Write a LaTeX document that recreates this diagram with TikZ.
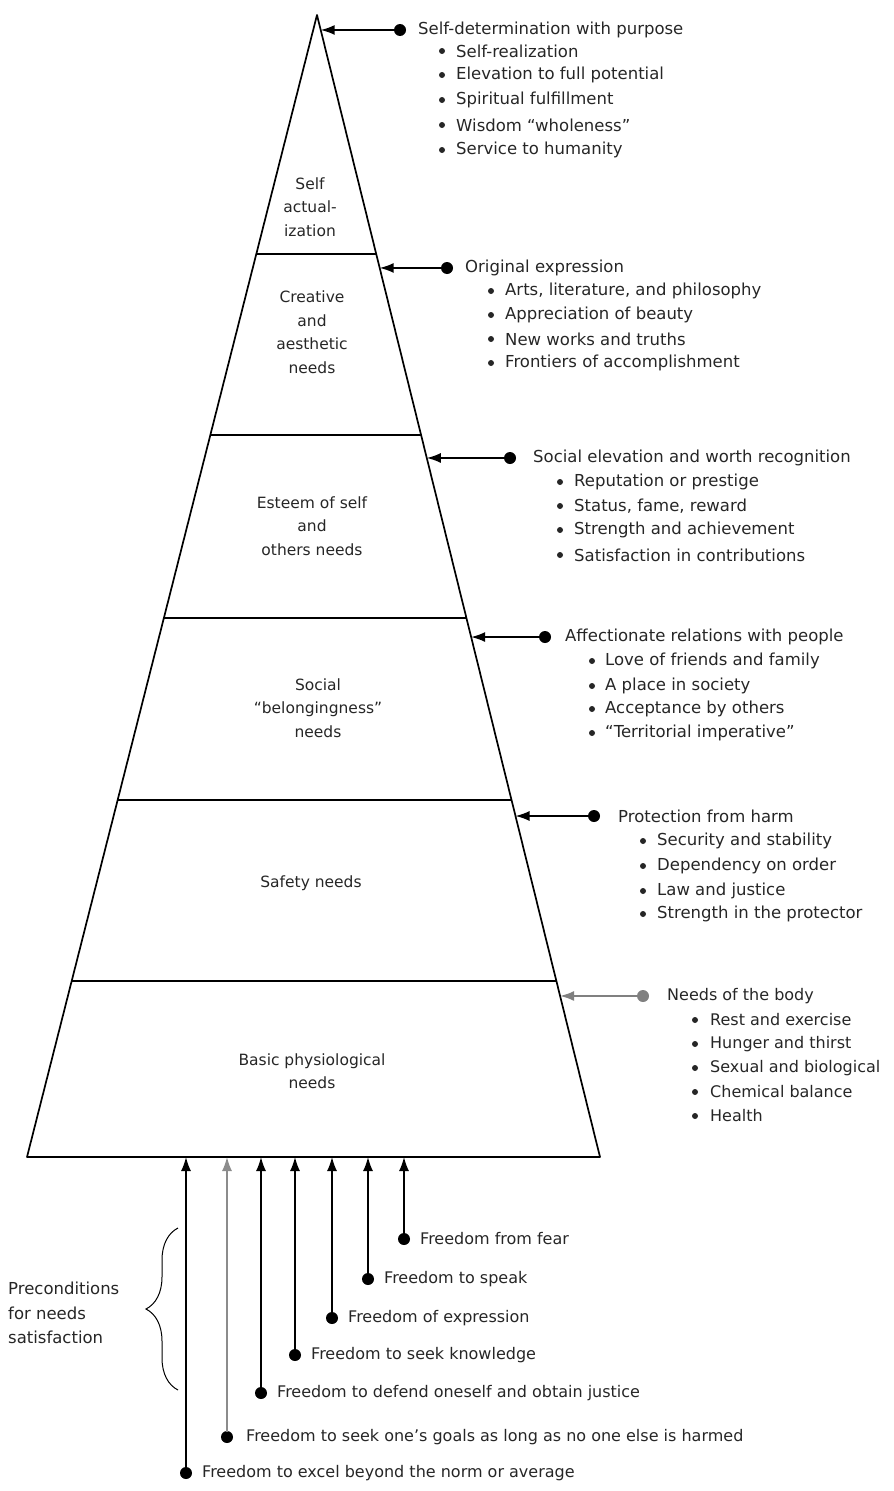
\documentclass[tikz,border=0pt]{standalone}
\usepackage{fontspec}
\setmainfont{DejaVu Sans}
\usetikzlibrary{arrows.meta,calc,decorations.pathreplacing}
\begin{document}
\begin{tikzpicture}[x=1pt,y=-1pt,
  pyr/.style={line width=1.7pt, line join=round},
  divl/.style={line width=1.2pt},
  lvl/.style={align=center, font=\fontsize{15.5}{23.5}\selectfont, inner sep=0pt, text=black!85},
  txt/.style={anchor=west, font=\fontsize{16}{20}\selectfont, inner sep=0pt, text=black!85},
  rtxt/.style={txt, font=\fontsize{16.5}{20}\selectfont},
  bul/.style={circle, fill=black!85, inner sep=0pt, minimum size=6pt},
  dot/.style={circle, fill=black, inner sep=0pt, minimum size=12pt},
  conn/.style={line width=1.6pt, -{Latex[length=14pt,width=10pt]}, shorten <=-1pt},
]
\useasboundingbox (0,0) rectangle (894,1491);

% pyramid
\coordinate (apex) at (317,15);
\coordinate (bl) at (27,1157);
\coordinate (br) at (600,1157);
\draw[pyr] (bl) -- (apex) -- (br) -- cycle;
\foreach \t in {0.2093,0.3678,0.5280,0.6874,0.8459}
  \draw[divl] ($(apex)!\t!(bl)$) -- ($(apex)!\t!(br)$);

% level labels
\node[lvl] (l1) at (310,207) {Self\\actual-\\ization};
\node[lvl] (l2) at (312,332) {Creative\\and\\aesthetic\\needs};
\node[lvl] (l3) at (312,526) {Esteem of self\\and\\others needs};
\node[lvl] (l4) at (318,708) {Social\\“belongingness”\\needs};
\node[lvl] (l5) at (311,883) {Safety needs};
\node[lvl] (l6) at (312,1071) {Basic physiological\\needs};

% edge targets on right side
\coordinate (e1) at ($(apex)!0.0131!(br)$);
\coordinate (e2) at ($(apex)!0.2215!(br)$);
\coordinate (e3) at ($(apex)!0.3879!(br)$);
\coordinate (e4) at ($(apex)!0.5447!(br)$);
\coordinate (e5) at ($(apex)!0.7014!(br)$);
\coordinate (e6) at ($(apex)!0.8590!(br)$);

% list 1
\node[dot] (d1) at (400,30) {};
\draw[conn] (d1) -- (e1);
\node[rtxt] (h1) at (418,30) {Self-determination with purpose};
\foreach \y/\s [count=\i] in {51/Self-realization,75/Elevation to full potential,100/Spiritual fulfillment,125/Wisdom “wholeness”,150/Service to humanity}{
  \node[bul] (b1\i) at (442,\y) {};
  \node[rtxt] (t1\i) at (456,\y) {\s};
}

% list 2
\node[dot] (d2) at (447,268) {};
\draw[conn] (d2) -- (e2);
\node[rtxt] (h2) at (465,268) {Original expression};
\foreach \y/\s [count=\i] in {291/{Arts, literature, and philosophy},315/Appreciation of beauty,339/New works and truths,363/Frontiers of accomplishment}{
  \node[bul] (b2\i) at (491,\y) {};
  \node[rtxt] (t2\i) at (505,\y) {\s};
}

% list 3
\node[dot] (d3) at (510,458) {};
\draw[conn] (d3) -- (e3);
\node[rtxt] (h3) at (533,458) {Social elevation and worth recognition};
\foreach \y/\s [count=\i] in {482/Reputation or prestige,506/{Status, fame, reward},530/Strength and achievement,555/Satisfaction in contributions}{
  \node[bul] (b3\i) at (560,\y) {};
  \node[rtxt] (t3\i) at (574,\y) {\s};
}

% list 4
\node[dot] (d4) at (545,637) {};
\draw[conn] (d4) -- (e4);
\node[rtxt] (h4) at (565,637) {Affectionate relations with people};
\foreach \y/\s [count=\i] in {661/Love of friends and family,686/A place in society,709/Acceptance by others,733/“Territorial imperative”}{
  \node[bul] (b4\i) at (592,\y) {};
  \node[rtxt] (t4\i) at (605,\y) {\s};
}

% list 5
\node[dot] (d5) at (594,816) {};
\draw[conn] (d5) -- (e5);
\node[rtxt] (h5) at (618,816) {Protection from harm};
\foreach \y/\s [count=\i] in {841/Security and stability,866/Dependency on order,891/Law and justice,914/Strength in the protector}{
  \node[bul] (b5\i) at (643,\y) {};
  \node[rtxt] (t5\i) at (657,\y) {\s};
}

% list 6
\node[dot, fill=black!50] (d6) at (643,996) {};
\draw[conn, draw=black!50] (d6) -- (e6);
\node[txt] (h6) at (667,996) {Needs of the body};
\foreach \y/\s [count=\i] in {1020/Rest and exercise,1044/Hunger and thirst,1068/Sexual and biological,1092/Chemical balance,1116/Health}{
  \node[bul] (b6\i) at (695,\y) {};
  \node[txt] (t6\i) at (710,\y) {\s};
}

% preconditions
\foreach \x/\y/\s/\n in {404/1239/Freedom from fear/1,368/1279/Freedom to speak/2,332/1318/Freedom of expression/3,295/1355/Freedom to seek knowledge/4,261/1393/Freedom to defend oneself and obtain justice/5,186/1473/Freedom to excel beyond the norm or average/7}{
  \node[dot] (f\n) at (\x,\y) {};
  \coordinate (g\n) at (\x,1157);
  \draw[conn] (f\n) -- (g\n);
  \node[txt] (p\n) at (\x+16,\y) {\s};
}
\node[dot] (f6) at (227,1437) {};
\coordinate (g6) at (227,1157);
\draw[conn, draw=black!45] (f6) -- (g6);
\node[txt] (p6) at (246,1437) {Freedom to seek one’s goals as long as no one else is harmed};

\coordinate (brt) at (178,1228);
\coordinate (brb) at (178,1390);
\draw[line width=1pt, decorate, decoration={brace, amplitude=32pt}] (brb) -- (brt);
\node[txt, align=left, font=\fontsize{16.5}{24.5}\selectfont] (pre) at (8,1313) {Preconditions\\for needs\\satisfaction};

\end{tikzpicture}
\end{document}
